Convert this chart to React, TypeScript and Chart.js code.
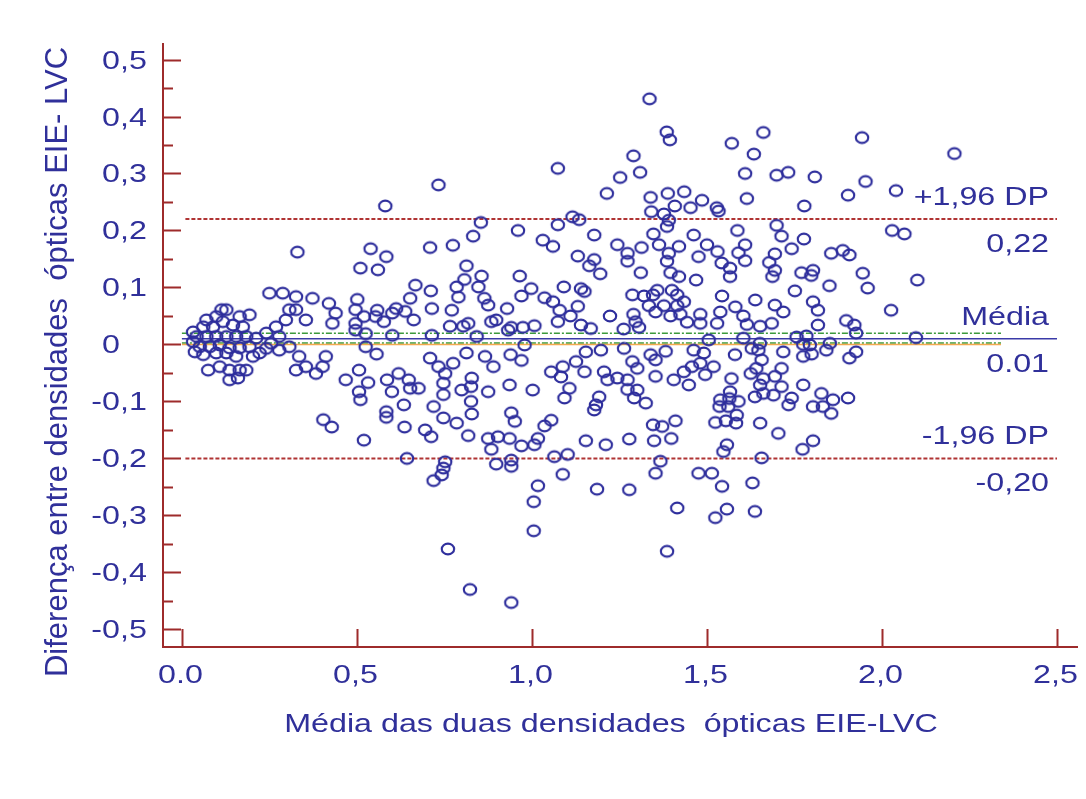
import { useEffect, useRef } from "react";
import { Chart, registerables } from "chart.js";

Chart.register(...registerables);

// [mean of the two optical densities, difference EIE - LVC]
const lowDensityPoints: [number, number][] = [
  [0.070, 0.043], [0.113, 0.061], [0.127, 0.061], [0.098, 0.049], [0.165, 0.049], [0.193, 0.052],
  [0.061, 0.031], [0.089, 0.031], [0.117, 0.040], [0.146, 0.034], [0.174, 0.031], [0.042, 0.014],
  [0.070, 0.014], [0.098, 0.014], [0.127, 0.014], [0.155, 0.014], [0.184, 0.014], [0.212, 0.011],
  [0.051, -0.004], [0.080, -0.004], [0.108, -0.001], [0.136, -0.006], [0.165, -0.006], [0.193, -0.004],
  [0.061, -0.018], [0.098, -0.015], [0.127, -0.015], [0.155, -0.021], [0.075, -0.045], [0.108, -0.039],
  [0.136, -0.045], [0.165, -0.045], [0.184, -0.045], [0.136, -0.062], [0.160, -0.059], [0.241, 0.020],
  [0.269, 0.031], [0.278, 0.014], [0.255, 0.002], [0.278, -0.010], [0.307, 0.061], [0.297, 0.043],
  [0.326, 0.061], [0.354, 0.043], [0.307, -0.004], [0.335, -0.021], [0.326, -0.045], [0.354, -0.039],
  [0.383, -0.051], [0.402, -0.039], [0.411, -0.021], [0.430, 0.037], [0.250, 0.090], [0.288, 0.090],
  [0.326, 0.084], [0.373, 0.081], [0.420, 0.072], [0.439, 0.055], [0.468, -0.062], [0.496, 0.061],
  [0.496, 0.037], [0.506, -0.045], [0.222, -0.015], [0.203, -0.021], [0.032, 0.022], [0.032, 0.005],
  [0.037, -0.013], [0.496, 0.025], [0.501, 0.079], [0.330, 0.162], [0.404, -0.132], [0.428, -0.145],
  [0.241, -0.007],
];

const midDensityPoints: [number, number][] = [
  [0.733, 0.280], [0.581, 0.243], [0.854, 0.214], [0.832, 0.190], [0.960, 0.200], [1.031, 0.183],
  [0.709, 0.170], [0.774, 0.174], [0.539, 0.168], [0.510, 0.134], [0.560, 0.131], [0.584, 0.154],
  [0.813, 0.138], [0.807, 0.114], [0.856, 0.120], [0.847, 0.101], [0.965, 0.120], [0.998, 0.098],
  [0.970, 0.085], [0.667, 0.104], [0.652, 0.081], [0.711, 0.094], [0.785, 0.101], [0.790, 0.083],
  [0.864, 0.081], [0.875, 0.069], [0.520, 0.049], [0.558, 0.060], [0.553, 0.049], [0.577, 0.040],
  [0.601, 0.055], [0.612, 0.063], [0.638, 0.058], [0.662, 0.043], [0.714, 0.063], [0.771, 0.060],
  [0.766, 0.032], [0.804, 0.032], [0.818, 0.037], [0.884, 0.040], [0.898, 0.043], [0.929, 0.063],
  [0.941, 0.030], [0.974, 0.030], [1.007, 0.033], [1.036, 0.082], [0.525, 0.019], [0.601, 0.016],
  [0.714, 0.016], [0.842, 0.014], [0.932, 0.025],
  [0.506, -0.083], [0.510, -0.097], [0.532, -0.067], [0.556, -0.017], [0.525, -0.004], [0.586, -0.062],
  [0.600, -0.083], [0.619, -0.051], [0.648, -0.062], [0.652, -0.077], [0.676, -0.077], [0.634, -0.106],
  [0.584, -0.118], [0.584, -0.128], [0.636, -0.145], [0.520, -0.168], [0.643, -0.200], [0.695, -0.150],
  [0.712, -0.162], [0.719, -0.109], [0.709, -0.024], [0.733, -0.039], [0.752, -0.051], [0.747, -0.068],
  [0.747, -0.088], [0.747, -0.129], [0.775, -0.033], [0.785, -0.138], [0.799, -0.080], [0.813, -0.015],
  [0.828, -0.059], [0.826, -0.074], [0.826, -0.100], [0.828, -0.122], [0.818, -0.160], [0.752, -0.206],
  [0.747, -0.217], [0.742, -0.229], [0.719, -0.239], [0.760, -0.359], [0.823, -0.430], [0.941, -0.453],
  [1.005, -0.327], [1.005, -0.276], [1.017, -0.248], [0.866, -0.021], [0.890, -0.039], [0.875, -0.083],
  [0.939, -0.018], [0.970, -0.028], [0.936, -0.071], [1.002, -0.080], [0.941, -0.120], [0.951, -0.135],
  [0.875, -0.165], [0.903, -0.162], [0.884, -0.184], [0.936, -0.165], [0.970, -0.178], [1.007, -0.176],
  [1.017, -0.165], [1.036, -0.143], [0.898, -0.210], [0.941, -0.203], [0.941, -0.214], [0.979, -0.001],
];

const highDensityUpper: [number, number][] = [
  [1.336, 0.431], [1.385, 0.373], [1.394, 0.359], [1.661, 0.372], [1.571, 0.353], [1.634, 0.334],
  [1.290, 0.331], [1.074, 0.309], [1.252, 0.293], [1.309, 0.302], [1.609, 0.300], [1.699, 0.297],
  [1.732, 0.302], [1.214, 0.265], [1.339, 0.258], [1.388, 0.265], [1.435, 0.268], [1.486, 0.253],
  [1.408, 0.243], [1.341, 0.233], [1.377, 0.229], [1.391, 0.218], [1.386, 0.207], [1.453, 0.240],
  [1.528, 0.240], [1.533, 0.234], [1.614, 0.256], [1.778, 0.243], [1.116, 0.224], [1.135, 0.219],
  [1.074, 0.210], [1.178, 0.192], [1.060, 0.172], [1.131, 0.155], [1.178, 0.149], [1.164, 0.138],
  [1.195, 0.124], [1.244, 0.175], [1.273, 0.160], [1.273, 0.146], [1.313, 0.170], [1.311, 0.126],
  [1.347, 0.194], [1.363, 0.175], [1.391, 0.160], [1.386, 0.146], [1.396, 0.126], [1.420, 0.172],
  [1.420, 0.119], [1.462, 0.192], [1.476, 0.154], [1.469, 0.113], [1.500, 0.175], [1.530, 0.163],
  [1.542, 0.143], [1.566, 0.134], [1.566, 0.119], [1.587, 0.200], [1.609, 0.175], [1.590, 0.161],
  [1.609, 0.147], [1.699, 0.209], [1.713, 0.190], [1.742, 0.168], [1.777, 0.185], [1.694, 0.159],
  [1.678, 0.144], [1.694, 0.130], [1.687, 0.119], [1.770, 0.126], [1.751, 0.094], [1.638, 0.078],
  [1.543, 0.085], [1.091, 0.101], [1.140, 0.098], [1.150, 0.093], [1.060, 0.075], [1.079, 0.060],
  [1.110, 0.050], [1.131, 0.067], [1.074, 0.040], [1.140, 0.034], [1.168, 0.028], [1.223, 0.050],
  [1.287, 0.087], [1.290, 0.053], [1.296, 0.040], [1.262, 0.027], [1.320, 0.085], [1.346, 0.087],
  [1.358, 0.095], [1.334, 0.068], [1.353, 0.057], [1.377, 0.068], [1.400, 0.095], [1.415, 0.087],
  [1.434, 0.075], [1.415, 0.068], [1.396, 0.050], [1.424, 0.053], [1.443, 0.039], [1.481, 0.053],
  [1.481, 0.037], [1.529, 0.037], [1.538, 0.057], [1.581, 0.066], [1.604, 0.050], [1.614, 0.035],
  [1.652, 0.032], [1.685, 0.037], [1.694, 0.069], [1.718, 0.057], [1.784, 0.015], [1.306, 0.030],
  [1.505, 0.008], [1.604, 0.011], [1.651, 0.002], [1.647, -0.010], [1.756, 0.013], [1.775, 0.000],
  [1.799, -0.017], [1.851, 0.002],
];

const highDensityRight: [number, number][] = [
  [1.943, 0.363], [2.207, 0.335], [1.808, 0.294], [1.953, 0.286], [1.903, 0.262], [2.040, 0.270],
  [2.029, 0.200], [2.064, 0.194], [1.855, 0.160], [1.888, 0.165], [1.907, 0.157], [1.803, 0.130],
  [1.798, 0.121], [1.850, 0.103], [1.945, 0.125], [1.959, 0.099], [2.101, 0.113], [1.803, 0.075],
  [1.817, 0.060], [1.817, 0.034], [1.898, 0.042], [1.921, 0.034], [1.926, 0.020], [2.026, 0.060],
  [2.097, 0.012],
];

const highDensityLower: [number, number][] = [
  [1.386, -0.363], [1.415, -0.287], [1.524, -0.304], [1.557, -0.289], [1.637, -0.293], [1.186, -0.254],
  [1.278, -0.255], [1.088, -0.228], [1.353, -0.226], [1.367, -0.205], [1.476, -0.226], [1.514, -0.226],
  [1.543, -0.249], [1.630, -0.243], [1.656, -0.199], [1.547, -0.188], [1.557, -0.176], [1.773, -0.184],
  [1.803, -0.169], [1.704, -0.156], [1.652, -0.138], [1.154, -0.169], [1.211, -0.176], [1.278, -0.166],
  [1.349, -0.169], [1.398, -0.165], [1.346, -0.141], [1.372, -0.144], [1.410, -0.134], [1.064, -0.197],
  [1.102, -0.193], [1.055, -0.133], [1.524, -0.137], [1.554, -0.134], [1.583, -0.138], [1.585, -0.124],
  [1.536, -0.109], [1.538, -0.097], [1.561, -0.109], [1.590, -0.100], [1.566, -0.083], [1.570, -0.060],
  [1.564, -0.095], [1.183, -0.106], [1.178, -0.115], [1.192, -0.092], [1.093, -0.094], [1.107, -0.077],
  [1.083, -0.057], [1.088, -0.039], [1.055, -0.048], [1.150, -0.048], [1.206, -0.048], [1.216, -0.062],
  [1.244, -0.059], [1.273, -0.062], [1.273, -0.079], [1.292, -0.094], [1.325, -0.103], [1.301, -0.080],
  [1.287, -0.030], [1.301, -0.042], [1.263, -0.007], [1.339, -0.018], [1.353, -0.027], [1.382, -0.012],
  [1.353, -0.056], [1.405, -0.062], [1.434, -0.048], [1.448, -0.071], [1.457, -0.039], [1.481, -0.033],
  [1.495, -0.053], [1.519, -0.039], [1.491, -0.015], [1.462, -0.010], [1.580, -0.018], [1.628, -0.007],
  [1.656, -0.027], [1.641, -0.042], [1.625, -0.051], [1.661, -0.060], [1.652, -0.071], [1.637, -0.092],
  [1.661, -0.086], [1.690, -0.089], [1.713, -0.042], [1.713, -0.074], [1.694, -0.056], [1.718, -0.013],
  [1.742, -0.094], [1.733, -0.106], [1.775, -0.071], [1.775, -0.021], [1.803, -0.109], [1.827, -0.086],
  [1.831, -0.109], [1.860, -0.097], [1.855, -0.121], [1.903, -0.094], [1.907, -0.024], [1.926, -0.013],
  [1.841, -0.010], [1.794, -0.001], [1.154, -0.013], [1.197, -0.010], [1.126, -0.030],
];

// Bland-Altman summary lines
const meanDifference = 0.01;
const upperLimit = 0.22;
const lowerLimit = -0.2;
const meanCiUpper = 0.0195;
const meanCiLower = 0.0025;

const xTicks = [0, 0.5, 1, 1.5, 2, 2.5];
const xTickLabels = ["0.0", "0,5", "1,0", "1,5", "2,0", "2,5"];
const yTicks = [0.5, 0.4, 0.3, 0.2, 0.1, 0, -0.1, -0.2, -0.3, -0.4, -0.5];
const yTickLabels = ["0,5", "0,4", "0,3", "0,2", "0,1", "0", "-0,1", "-0,2", "-0,3", "-0,4", "-0,5"];

const lineLabels: { value: number; above: string; below: string }[] = [
  { value: upperLimit, above: "+1,96 DP", below: "0,22" },
  { value: meanDifference, above: "Média", below: "0.01" },
  { value: lowerLimit, above: "-1,96 DP", below: "-0,20" },
];

const xTitle = "Média das duas densidades  ópticas EIE-LVC";
const yTitle = "Diferença entre densidades  ópticas EIE- LVC";

const TEXT_COLOR = "#30309a";
const POINT_COLOR = "#2d2d9c";
const AXIS_COLOR = "#9e2b2b";
const LIMIT_COLOR = "#b03434";
const FONT = "'Liberation Sans', Arial, sans-serif";
const TEXT_SIZE = 26;
const TEXT_STRETCH = 1.24;

function makeRing(): HTMLCanvasElement {
  const c = document.createElement("canvas");
  c.width = 18;
  c.height = 16;
  const g = c.getContext("2d")!;
  g.strokeStyle = POINT_COLOR;
  g.lineWidth = 2.1;
  g.beginPath();
  g.ellipse(9, 8, 6.2, 5.4, 0, 0, Math.PI * 2);
  g.stroke();
  return c;
}

function stretchedText(
  ctx: CanvasRenderingContext2D,
  text: string,
  x: number,
  y: number,
  align: CanvasTextAlign
) {
  ctx.save();
  ctx.translate(x, y);
  ctx.scale(TEXT_STRETCH, 1);
  ctx.textAlign = align;
  ctx.textBaseline = "alphabetic";
  ctx.fillText(text, 0, 0);
  ctx.restore();
}

const blandAltmanFrame = {
  id: "blandAltmanFrame",
  afterDraw(chart: any) {
    const { ctx, chartArea, scales } = chart;
    const xs = scales.x;
    const ys = scales.y;
    const left = chartArea.left;
    const bottom = chartArea.bottom;

    ctx.save();
    // axes
    ctx.strokeStyle = AXIS_COLOR;
    ctx.lineWidth = 2;
    ctx.beginPath();
    ctx.moveTo(left, chartArea.top);
    ctx.lineTo(left, bottom);
    ctx.lineTo(chartArea.right, bottom);
    ctx.stroke();

    // y ticks: major every 0.1, minor in between, pointing inwards
    ctx.beginPath();
    for (let i = -10; i <= 10; i++) {
      const py = Math.round(ys.getPixelForValue(i * 0.05)) + 0.5;
      const len = i % 2 === 0 ? 18 : 10;
      ctx.moveTo(left, py);
      ctx.lineTo(left + len, py);
    }
    for (const t of xTicks) {
      const px = Math.round(xs.getPixelForValue(t)) + 0.5;
      ctx.moveTo(px, bottom);
      ctx.lineTo(px, bottom - 18);
    }
    ctx.stroke();

    ctx.fillStyle = TEXT_COLOR;
    ctx.font = `${TEXT_SIZE}px ${FONT}`;

    // y tick labels, digits aligned on the leading zero
    yTicks.forEach((t, i) => {
      const label = yTickLabels[i];
      let x0 = 102;
      if (label.startsWith("-")) x0 -= ctx.measureText("-").width * TEXT_STRETCH;
      stretchedText(ctx, label, x0, ys.getPixelForValue(t) + 9, "left");
    });

    // x tick labels
    xTicks.forEach((t, i) => {
      stretchedText(ctx, xTickLabels[i], xs.getPixelForValue(t) - 1.5, 683, "center");
    });

    // x title
    stretchedText(ctx, xTitle, 611, 732, "center");

    // line captions at the right end
    const rightX = xs.getPixelForValue(2.5) - 8;
    for (const l of lineLabels) {
      const py = ys.getPixelForValue(l.value);
      stretchedText(ctx, l.above, rightX, py - 14, "right");
      stretchedText(ctx, l.below, rightX, py + 33, "right");
    }

    // y title, rotated
    ctx.save();
    ctx.translate(67, 362);
    ctx.rotate(-Math.PI / 2);
    ctx.font = `31px ${FONT}`;
    ctx.textAlign = "center";
    ctx.textBaseline = "alphabetic";
    ctx.fillText(yTitle, 0, 0);
    ctx.restore();

    ctx.restore();
  },
};

function hLine(y: number, x0: number, x1: number) {
  return [
    { x: x0, y },
    { x: x1, y },
  ];
}

export default function App() {
  const canvasRef = useRef<HTMLCanvasElement | null>(null);

  useEffect(() => {
    const canvas = canvasRef.current;
    if (!canvas) return;
    const ring = makeRing();
    const allPoints = [
      ...lowDensityPoints,
      ...midDensityPoints,
      ...highDensityUpper,
      ...highDensityRight,
      ...highDensityLower,
    ].map(([x, y]) => ({ x, y }));

    const lineBase = { showLine: true, pointRadius: 0, pointHoverRadius: 0, fill: false, order: 1 };

    const chart = new Chart(canvas, {
      type: "scatter",
      data: {
        datasets: [
          {
            label: "Diferença",
            data: allPoints,
            pointStyle: ring as any,
            pointRadius: 7,
            order: 0,
          },
          {
            ...lineBase,
            label: "zero",
            data: hLine(0, 0, 2.34),
            borderColor: "#f4a94e",
            borderWidth: 1.5,
          },
          {
            ...lineBase,
            label: "IC superior",
            data: hLine(meanCiUpper, 0, 2.34),
            borderColor: "#3c9a3c",
            borderWidth: 1.5,
            borderDash: [6, 2, 2, 2],
          },
          {
            ...lineBase,
            label: "IC inferior",
            data: hLine(meanCiLower, 0, 2.34),
            borderColor: "#3c9a3c",
            borderWidth: 1.5,
            borderDash: [6, 2, 2, 2],
          },
          {
            ...lineBase,
            label: "Média",
            data: hLine(meanDifference, 0, 2.5),
            borderColor: "#3a3aa8",
            borderWidth: 1.5,
          },
          {
            ...lineBase,
            label: "+1,96 DP",
            data: hLine(upperLimit, 0.01, 2.5),
            borderColor: LIMIT_COLOR,
            borderWidth: 2,
            borderDash: [4, 2],
          },
          {
            ...lineBase,
            label: "-1,96 DP",
            data: hLine(lowerLimit, 0.01, 2.5),
            borderColor: LIMIT_COLOR,
            borderWidth: 2,
            borderDash: [4, 2],
          },
        ],
      },
      options: {
        animation: false,
        responsive: false,
        devicePixelRatio: 1,
        layout: { padding: { left: 163, right: 3, top: 43, bottom: 152 } },
        scales: {
          x: { type: "linear", min: -0.054, max: 2.56, display: false },
          y: { type: "linear", min: -0.531, max: 0.529, display: false },
        },
        plugins: {
          legend: { display: false },
          tooltip: { enabled: false },
        },
      },
      plugins: [blandAltmanFrame],
    });
    return () => chart.destroy();
  }, []);

  return (
    <div
      style={{
        position: "fixed",
        left: 0,
        top: 0,
        width: 1086,
        height: 799,
        background: "#ffffff",
      }}
    >
      <canvas ref={canvasRef} width={1086} height={799} style={{ display: "block" }} />
    </div>
  );
}
